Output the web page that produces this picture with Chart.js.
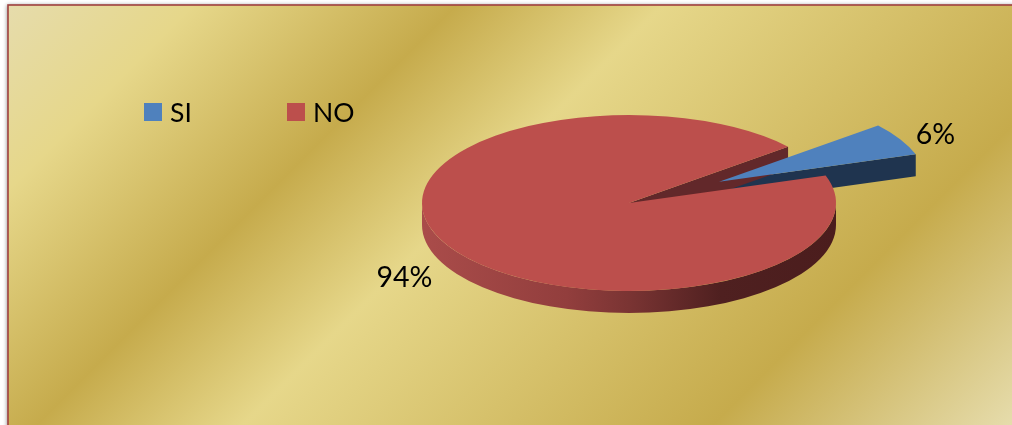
<!DOCTYPE html>
<html>
<head>
<meta charset="utf-8">
<style>
  html, body { margin: 0; padding: 0; background: #ffffff; overflow: hidden; }
  canvas { display: block; }
</style>
<script src="https://cdn.jsdelivr.net/npm/chart.js@4"></script>
</head>
<body>
<canvas id="chart" width="1012" height="425"></canvas>
<script>
// Survey answers, in percent
const categories = ['SI', 'NO'];
const shares = [6, 94];
const sliceColors = ['#4f81bd', '#bc4f4c'];
const cutFaceColors = ['#1f344f', '#62282a'];
const explodePx = [103, 0];

// Projection of the tilted pie
const SQUASH = 0.425;
const DEPTH = 22;
const LEGEND_FONT = '26.5px Lato, Carlito, sans-serif';
const LABEL_FONT = '28.5px Lato, Carlito, sans-serif';

const frame = { left: 8, top: 5 };

function drawBackdrop(chart) {
  const { ctx, width, height } = chart;
  ctx.save();
  ctx.fillStyle = '#ffffff';
  ctx.fillRect(0, 0, width, height);

  const reach = (width + height - frame.left - frame.top) / 2;
  const gold = ctx.createLinearGradient(frame.left, frame.top, frame.left + reach, frame.top + reach);
  gold.addColorStop(0, '#e6dcac');
  gold.addColorStop(0.13, '#e6d78a');
  gold.addColorStop(0.315, '#c6ab4c');
  gold.addColorStop(0.46, '#e6d78a');
  gold.addColorStop(0.79, '#c6ab4c');
  gold.addColorStop(1, '#e6dcac');

  ctx.shadowColor = 'rgba(0,0,0,0.45)';
  ctx.shadowBlur = 4;
  ctx.shadowOffsetX = -1;
  ctx.fillStyle = gold;
  ctx.fillRect(frame.left, frame.top, width + 20, height + 20);
  ctx.shadowColor = 'transparent';

  ctx.strokeStyle = '#a0403f';
  ctx.lineWidth = 1.6;
  ctx.strokeRect(frame.left, frame.top, width + 20, height + 20);
  ctx.restore();
}

function drawWalls(chart) {
  const { ctx } = chart;
  const arcs = chart.getDatasetMeta(0).data;
  arcs.forEach((arc, i) => {
    const rx = arc.outerRadius;
    const ry = rx * SQUASH;
    const baseY = chart.chartArea.top + chart.chartArea.height / 2;
    const cy = baseY + (arc.y - baseY) * SQUASH;

    // Outer rim, only where it faces the viewer
    const from = Math.max(arc.startAngle, 0);
    const to = Math.min(arc.endAngle, Math.PI);
    if (to > from) {
      const rim = ctx.createLinearGradient(arc.x - rx, 0, arc.x + rx, 0);
      rim.addColorStop(0, '#aa4c4a');
      rim.addColorStop(0.35, '#923e3d');
      rim.addColorStop(0.5, '#7a3433');
      rim.addColorStop(0.72, '#4f2020');
      rim.addColorStop(1, '#4b1d1d');
      ctx.beginPath();
      ctx.ellipse(arc.x, cy, rx, ry, 0, from, to);
      ctx.ellipse(arc.x, cy + DEPTH, rx, ry, 0, to, from, true);
      ctx.closePath();
      ctx.fillStyle = rim;
      ctx.fill();
    }

    // Radial face along the trailing edge of the slice
    const ex = arc.x + Math.cos(arc.endAngle) * rx;
    const ey = cy + Math.sin(arc.endAngle) * ry;
    ctx.beginPath();
    ctx.moveTo(arc.x, cy);
    ctx.lineTo(ex, ey);
    ctx.lineTo(ex, ey + DEPTH);
    ctx.lineTo(arc.x, cy + DEPTH);
    ctx.closePath();
    ctx.fillStyle = cutFaceColors[i];
    ctx.fill();
  });
}

const tiltedPie = {
  id: 'tiltedPie',
  beforeDraw: drawBackdrop,
  afterDatasetsUpdate(chart) {
    // Pull slices out along their bisector without resizing them
    chart.getDatasetMeta(0).data.forEach((arc, i) => {
      const mid = (arc.startAngle + arc.endAngle) / 2;
      arc.x += Math.cos(mid) * explodePx[i];
      arc.y += Math.sin(mid) * explodePx[i];
    });
  },
  beforeDatasetsDraw(chart) {
    const { ctx, chartArea } = chart;
    drawWalls(chart);
    const cy = chartArea.top + chartArea.height / 2;
    ctx.save();
    ctx.translate(0, cy);
    ctx.scale(1, SQUASH);
    ctx.translate(0, -cy);
  },
  afterDatasetsDraw(chart) {
    const { ctx, chartArea } = chart;
    ctx.restore();

    // Percentage labels just outside each slice
    const cy = chartArea.top + chartArea.height / 2;
    const total = shares.reduce((a, b) => a + b, 0);
    const labelReach = [1.195, 1.24];
    const labelDrop = [4, 22];
    ctx.save();
    ctx.font = LABEL_FONT;
    ctx.fillStyle = '#000000';
    ctx.textAlign = 'center';
    ctx.textBaseline = 'middle';
    chart.getDatasetMeta(0).data.forEach((arc, i) => {
      const mid = (arc.startAngle + arc.endAngle) / 2;
      const r = arc.outerRadius * labelReach[i];
      const x = arc.x + Math.cos(mid) * r;
      const y = cy + (arc.y - cy) * SQUASH + Math.sin(mid) * r * SQUASH + labelDrop[i];
      ctx.fillText(Math.round(shares[i] / total * 100) + '%', x, y);
    });
    ctx.restore();
  },
  afterDraw(chart) {
    // Legend row
    const { ctx } = chart;
    const entryX = [144, 287];
    const boxTop = 103;
    const boxSize = 18;
    ctx.save();
    ctx.font = LEGEND_FONT;
    ctx.textAlign = 'left';
    ctx.textBaseline = 'alphabetic';
    categories.forEach((name, i) => {
      ctx.fillStyle = sliceColors[i];
      ctx.fillRect(entryX[i], boxTop, boxSize, boxSize);
      ctx.fillStyle = '#000000';
      ctx.fillText(name, entryX[i] + boxSize + 8, boxTop + 19);
    });
    ctx.restore();
  }
};

new Chart(document.getElementById('chart'), {
  type: 'pie',
  data: {
    labels: categories,
    datasets: [{
      data: shares,
      backgroundColor: sliceColors,
      borderWidth: 0,
      clip: false
    }]
  },
  options: {
    responsive: false,
    animation: false,
    rotation: 50.2,
    radius: 207,
    layout: { padding: { left: 246, right: 0, top: 0, bottom: 19 } },
    plugins: {
      legend: { display: false },
      tooltip: { enabled: false },
      title: { display: false }
    }
  },
  plugins: [tiltedPie]
});
</script>
</body>
</html>
